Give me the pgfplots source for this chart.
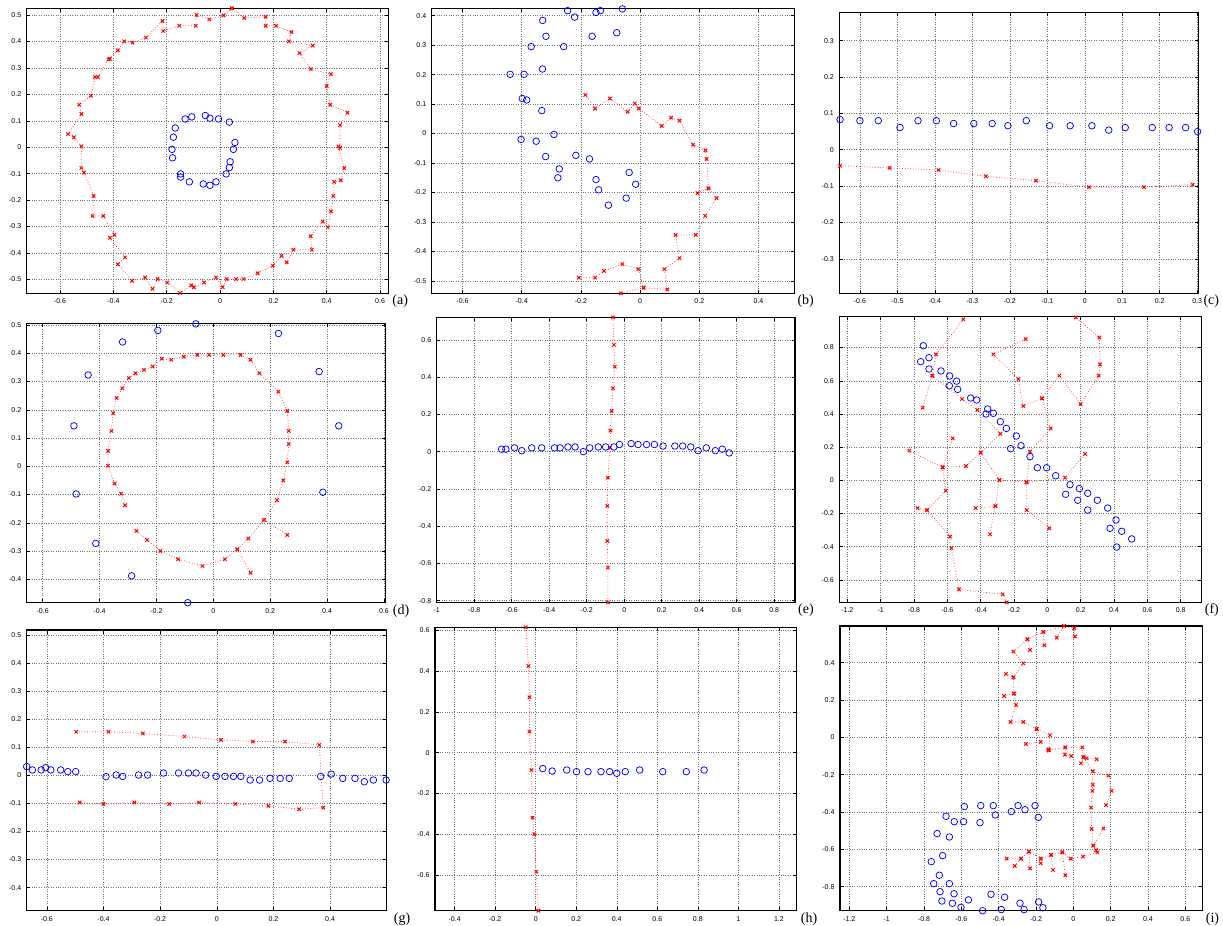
\documentclass[border=0pt]{standalone}
\usepackage{fontspec}
\setmainfont{Liberation Serif}
\setsansfont{Liberation Sans}
\usepackage{pgfplots}
\pgfplotsset{compat=1.18}
\pgfplotsset{
 panel/.style={scale only axis, anchor=north west,
  axis line style={line width=1.1pt, black},
  grid=major, major grid style={dotted, line width=0.5pt, black!55},
  tick align=inside, major tick length=3.5pt, tick style={line width=0.5pt, black},
  scaled ticks=false, /pgf/number format/assume math mode=true, /pgf/number format/fixed,
  tick label style={font=\sffamily\fontsize{7}{8}\selectfont},
  xticklabel style={yshift=-2pt}, yticklabel style={xshift=-2pt},
  unbounded coords=jump},
 blu/.style={only marks, mark=o, mark size=3.3pt, blue, mark options={line width=0.75pt}},
 rd/.style={red!85, dotted, line width=0.7pt, mark=x, mark size=2.4pt, mark options={solid, red, line width=1pt}},
}
\tikzset{lab/.style={anchor=west, inner sep=0pt, font=\fontsize{14}{14}\selectfont}}
\begin{document}
\begin{tikzpicture}
\path (0pt,0pt) rectangle (1223pt,-925pt);
% ---------------- (a)
\begin{axis}[panel, name=pA, at={(26.7pt,-8.3pt)}, width=361.6pt, height=285pt,
 xmin=-0.725, xmax=0.631, ymin=-0.553, ymax=0.526,
 xtick={-0.6,-0.4,-0.2,0,0.2,0.4,0.6}, ytick={-0.5,-0.4,-0.3,-0.2,-0.1,0,0.1,0.2,0.3,0.4,0.5}]
\addplot[rd] coordinates {(0.044,0.526) (0.013,0.499) (-0.040,0.484) (-0.088,0.501) (-0.091,0.460) (-0.153,0.460) (-0.213,0.440) (-0.216,0.478) (-0.278,0.415) (-0.328,0.396) (-0.360,0.401) (-0.383,0.367) (-0.413,0.335) (-0.418,0.333) (-0.458,0.266) (-0.469,0.266) (-0.484,0.195) (-0.528,0.161) (-0.520,0.126) (-0.570,0.050) (-0.548,0.038) (-0.520,0.003) (-0.520,-0.078) (-0.510,-0.096) (-0.474,-0.184) (-0.478,-0.260) (-0.438,-0.260) (-0.396,-0.332) (-0.413,-0.343) (-0.356,-0.417) (-0.383,-0.443) (-0.330,-0.506) (-0.281,-0.493) (-0.253,-0.536) (-0.234,-0.499) (-0.198,-0.512) (-0.150,-0.552) (-0.108,-0.523) (-0.098,-0.530) (-0.060,-0.512) (-0.015,-0.493) (0.010,-0.530) (0.025,-0.499) (0.060,-0.499) (0.088,-0.499) (0.141,-0.477) (0.198,-0.448) (0.231,-0.411) (0.250,-0.436) (0.275,-0.388) (0.344,-0.388) (0.340,-0.337) (0.385,-0.281) (0.404,-0.303) (0.416,-0.243) (0.425,-0.184) (0.428,-0.131) (0.453,-0.125) (0.466,-0.079) (0.444,0.003) (0.450,-0.003) (0.450,0.084) (0.478,0.131) (0.413,0.161) (0.400,0.232) (0.416,0.277) (0.340,0.296) (0.298,0.356) (0.348,0.385) (0.258,0.401) (0.268,0.436) (0.210,0.460) (0.171,0.460) (0.171,0.494) (0.091,0.489) (0.044,0.526)};
\addplot[blu] coordinates {(-0.055,0.120) (-0.038,0.110) (-0.006,0.107) (0.035,0.095) (-0.106,0.115) (-0.131,0.107) (-0.168,0.073) (-0.175,0.038) (-0.180,-0.008) (-0.178,-0.040) (0.056,0.018) (0.050,-0.008) (0.038,-0.055) (0.035,-0.077) (0.023,-0.101) (-0.015,-0.131) (-0.038,-0.144) (-0.063,-0.139) (-0.115,-0.131) (-0.148,-0.101) (-0.148,-0.113)};
\end{axis}
\node[lab] at ([xshift=4pt,yshift=-8pt]pA.south east) {(a)};
% ---------------- (b)
\begin{axis}[panel, name=pB, at={(431.7pt,-8.3pt)}, width=362.6pt, height=285pt,
 xmin=-0.704, xmax=0.521, ymin=-0.542, ymax=0.425,
 xtick={-0.6,-0.4,-0.2,0,0.2,0.4}, ytick={-0.5,-0.4,-0.3,-0.2,-0.1,0,0.1,0.2,0.3,0.4}]
\addplot[rd] coordinates {(-0.185,0.131) (-0.152,0.085) (-0.102,0.119) (-0.042,0.074) (-0.018,0.102) (-0.005,0.085) (0.073,0.026) (0.105,0.054) (0.133,0.044) (0.179,-0.038) (0.221,-0.057) (0.225,-0.086) (0.231,-0.186) (0.258,-0.219) (0.220,-0.279) (0.188,-0.344) (0.120,-0.344) (0.133,-0.423) (0.082,-0.460) (0.092,-0.529) (0.012,-0.523) (-0.006,-0.460) (-0.060,-0.443) (-0.122,-0.466) (-0.152,-0.489) (-0.207,-0.489) (nan,nan) (0.231,-0.186) (0.194,-0.202) (nan,nan) (0.012,-0.523) (-0.065,-0.542)};
\addplot[blu] coordinates {(-0.439,0.201) (-0.392,0.201) (-0.398,0.119) (-0.383,0.114) (-0.332,0.078) (-0.402,-0.020) (-0.351,-0.026) (-0.291,-0.003) (-0.319,-0.078) (-0.273,-0.120) (-0.278,-0.150) (-0.217,-0.074) (-0.171,-0.086) (-0.149,-0.156) (-0.140,-0.191) (-0.107,-0.243) (-0.047,-0.219) (-0.037,-0.132) (-0.015,-0.172) (-0.368,0.295) (-0.330,0.219) (-0.318,0.330) (-0.329,0.384) (-0.258,0.295) (-0.245,0.417) (-0.221,0.395) (-0.162,0.330) (-0.149,0.411) (-0.134,0.417) (-0.079,0.342) (-0.060,0.423)};
\end{axis}
\node[lab] at ([xshift=3pt,yshift=-8pt]pB.south east) {(b)};
% ---------------- (c)
\begin{axis}[panel, name=pC, at={(839.3pt,-12.7pt)}, width=359pt, height=280.6pt,
 xmin=-0.655, xmax=0.303, ymin=-0.395, ymax=0.377,
 xtick={-0.6,-0.5,-0.4,-0.3,-0.2,-0.1,0,0.1,0.2,0.3}, ytick={-0.3,-0.2,-0.1,0,0.1,0.2,0.3}]
\addplot[rd] coordinates {(-0.653,-0.044) (-0.521,-0.050) (-0.390,-0.056) (-0.264,-0.073) (-0.130,-0.085) (0.011,-0.103) (0.158,-0.103) (0.288,-0.096)};
\addplot[blu] coordinates {(-0.653,0.083) (-0.600,0.080) (-0.551,0.080) (-0.493,0.061) (-0.445,0.080) (-0.396,0.080) (-0.350,0.072) (-0.296,0.072) (-0.247,0.072) (-0.205,0.066) (-0.156,0.080) (-0.094,0.066) (-0.039,0.066) (0.019,0.066) (0.064,0.054) (0.108,0.061) (0.180,0.061) (0.225,0.061) (0.269,0.061) (0.301,0.050)};
\end{axis}
\node[lab] at ([xshift=5pt,yshift=-8pt]pC.south east) {(c)};
% ---------------- (d)
\begin{axis}[panel, name=pD, at={(26.7pt,-323.3pt)}, width=359pt, height=279.4pt,
 xmin=-0.656, xmax=0.606, ymin=-0.483, ymax=0.506,
 xtick={-0.6,-0.4,-0.2,0,0.2,0.4,0.6}, ytick={-0.4,-0.3,-0.2,-0.1,0,0.1,0.2,0.3,0.4,0.5}]
\addplot[rd] coordinates {(-0.310,-0.138) (-0.324,-0.097) (-0.347,-0.061) (-0.370,0.002) (-0.370,0.054) (-0.358,0.125) (-0.352,0.188) (-0.340,0.242) (-0.320,0.276) (-0.297,0.312) (-0.274,0.329) (-0.244,0.341) (-0.213,0.353) (-0.181,0.381) (-0.148,0.377) (-0.104,0.388) (-0.056,0.394) (-0.015,0.394) (0.035,0.394) (0.096,0.394) (0.131,0.377) (0.162,0.329) (0.229,0.264) (0.260,0.196) (0.265,0.125) (0.265,0.078) (0.260,0.014) (0.246,-0.050) (0.224,-0.120) (0.178,-0.190) (0.123,-0.256) (0.084,-0.294) (0.041,-0.329) (-0.038,-0.353) (-0.124,-0.329) (-0.186,-0.300) (-0.233,-0.261) (-0.270,-0.229) (nan,nan) (0.178,-0.190) (0.260,-0.243) (nan,nan) (0.084,-0.294) (0.131,-0.377)};
\addplot[blu] coordinates {(-0.061,0.504) (0.077,0.509) (-0.195,0.481) (-0.319,0.440) (0.229,0.470) (-0.440,0.323) (0.372,0.335) (-0.490,0.143) (0.441,0.143) (-0.482,-0.098) (0.385,-0.092) (-0.413,-0.273) (-0.287,-0.388) (-0.090,-0.483)};
\end{axis}
\node[lab] at ([xshift=7pt,yshift=-8pt]pD.south east) {(d)};
% ---------------- (e)
\begin{axis}[panel, name=pE, at={(436.7pt,-317.3pt)}, width=358.3pt, height=285pt,
 xmin=-1.0, xmax=0.911, ymin=-0.809, ymax=0.721,
 xtick={-1,-0.8,-0.6,-0.4,-0.2,0,0.2,0.4,0.6,0.8}, ytick={-0.8,-0.6,-0.4,-0.2,0,0.2,0.4,0.6}]
\addplot[rd] coordinates {(-0.060,0.721) (-0.055,0.573) (-0.050,0.456) (-0.060,0.340) (-0.067,0.218) (-0.073,0.113) (-0.076,0.021) (-0.087,-0.140) (-0.090,-0.292) (-0.090,-0.480) (-0.087,-0.623) (-0.087,-0.809)};
\addplot[blu] coordinates {(-0.654,0.013) (-0.631,0.013) (-0.585,0.020) (-0.546,0.005) (-0.493,0.020) (-0.440,0.020) (-0.372,0.020) (-0.342,0.020) (-0.300,0.025) (-0.262,0.025) (-0.218,0.000) (-0.184,0.020) (-0.138,0.025) (-0.099,0.025) (-0.055,0.025) (-0.025,0.038) (0.037,0.043) (0.074,0.038) (0.119,0.038) (0.161,0.038) (0.207,0.030) (0.270,0.030) (0.312,0.030) (0.355,0.025) (0.394,0.005) (0.438,0.020) (0.486,0.005) (0.523,0.013) (0.560,-0.007)};
\end{axis}
\node[lab] at ([xshift=3pt,yshift=-8pt]pE.south east) {(e)};
% ---------------- (f)
\begin{axis}[panel, name=pF, at={(839.3pt,-316.7pt)}, width=362.4pt, height=285.6pt,
 xmin=-1.248, xmax=0.926, ymin=-0.735, ymax=0.986,
 xtick={-1.2,-1,-0.8,-0.6,-0.4,-0.2,0,0.2,0.4,0.6,0.8}, ytick={-0.6,-0.4,-0.2,0,0.2,0.4,0.6,0.8}]
\addplot[rd] coordinates {(-0.504,0.970) (-0.668,0.759) (-0.690,0.631) (-0.748,0.438) (nan,nan)
(-0.690,0.631) (-0.512,0.490) (-0.420,0.424) (-0.282,0.281) (-0.400,0.167) (-0.488,0.086) (-0.628,0.078) (-0.568,0.253) (nan,nan)
(-0.628,0.078) (-0.828,0.179) (nan,nan)
(-0.628,0.078) (-0.610,-0.062) (-0.722,-0.179) (-0.778,-0.167) (nan,nan)
(-0.722,-0.179) (-0.584,-0.339) (-0.576,-0.408) (-0.530,-0.657) (-0.268,-0.687) (-0.244,-0.735) (nan,nan)
(-0.400,0.167) (-0.288,0.002) (-0.312,-0.155) (-0.430,-0.167) (nan,nan)
(-0.312,-0.155) (-0.344,-0.325) (nan,nan)
(-0.288,0.002) (-0.124,-0.012) (-0.124,-0.179) (0.012,-0.289) (nan,nan)
(-0.124,-0.012) (-0.104,0.173) (0.020,0.313) (-0.032,0.494) (-0.144,0.448) (-0.174,0.610) (-0.324,0.759) (-0.130,0.851) (nan,nan)
(-0.032,0.494) (0.072,0.631) (0.200,0.460) (0.308,0.631) (0.316,0.699) (0.312,0.861) (0.170,0.982) (nan,nan)
(-0.124,-0.012) (0.106,0.016) (0.226,0.159)};
\addplot[blu] coordinates {(-0.744,0.811) (-0.760,0.715) (-0.710,0.739) (-0.710,0.671) (-0.638,0.659) (-0.586,0.629) (-0.588,0.570) (-0.544,0.598) (-0.538,0.548) (-0.460,0.496) (-0.424,0.484) (-0.358,0.430) (-0.368,0.400) (-0.324,0.404) (-0.282,0.353) (-0.246,0.313) (-0.186,0.267) (-0.158,0.209) (-0.220,0.191) (-0.104,0.143) (-0.060,0.076) (-0.004,0.076) (0.050,0.028) (0.136,-0.026) (0.192,-0.050) (0.110,-0.084) (0.242,-0.078) (0.182,-0.120) (0.300,-0.120) (0.242,-0.179) (0.362,-0.167) (0.412,-0.239) (0.376,-0.289) (0.446,-0.307) (0.506,-0.353) (0.416,-0.402)};
\end{axis}
\node[lab] at ([xshift=3pt,yshift=-8pt]pF.south east) {(f)};
% ---------------- (g)
\begin{axis}[panel, name=pG, at={(26.7pt,-630pt)}, width=360pt, height=280.7pt,
 xmin=-0.671, xmax=0.600, ymin=-0.482, ymax=0.517,
 xtick={-0.6,-0.4,-0.2,0,0.2,0.4}, ytick={-0.4,-0.3,-0.2,-0.1,0,0.1,0.2,0.3,0.4,0.5}]
\addplot[rd] coordinates {(-0.496,0.155) (-0.382,0.155) (-0.261,0.149) (-0.114,0.138) (0.015,0.126) (0.127,0.120) (0.241,0.120) (0.362,0.108) (0.376,-0.115) (0.291,-0.121) (0.182,-0.109) (0.066,-0.102) (-0.062,-0.097) (-0.168,-0.102) (-0.291,-0.097) (-0.400,-0.102) (-0.484,-0.097)};
\addplot[blu] coordinates {(-0.671,0.031) (-0.651,0.019) (-0.620,0.019) (-0.604,0.027) (-0.586,0.019) (-0.551,0.019) (-0.526,0.013) (-0.498,0.013) (-0.391,-0.005) (-0.355,0.001) (-0.332,-0.004) (-0.276,0.001) (-0.244,0.001) (-0.188,0.008) (-0.135,0.008) (-0.100,0.008) (-0.073,0.008) (-0.039,0.001) (-0.002,-0.004) (0.029,-0.004) (0.059,-0.004) (0.085,-0.004) (0.118,-0.017) (0.151,-0.017) (0.188,-0.011) (0.224,-0.011) (0.256,-0.011) (0.367,-0.004) (0.404,0.004) (0.445,-0.011) (0.488,-0.011) (0.521,-0.023) (0.553,-0.017) (0.598,-0.017)};
\end{axis}
\node[lab] at ([xshift=7pt,yshift=-8pt]pG.south east) {(g)};
% ---------------- (h)
\begin{axis}[panel, name=pH, at={(435pt,-627.3pt)}, width=361.7pt, height=283.4pt,
 xmin=-0.497, xmax=1.288, ymin=-0.773, ymax=0.613,
 xtick={-0.4,-0.2,0,0.2,0.4,0.6,0.8,1,1.2}, ytick={-0.6,-0.4,-0.2,0,0.2,0.4,0.6}]
\addplot[rd] coordinates {(-0.049,0.613) (-0.036,0.424) (-0.031,0.271) (-0.031,0.103) (-0.021,-0.085) (-0.016,-0.318) (-0.007,-0.399) (0.003,-0.582) (0.013,-0.773)};
\addplot[blu] coordinates {(0.035,-0.078) (0.081,-0.090) (0.153,-0.085) (0.201,-0.093) (0.258,-0.093) (0.322,-0.093) (0.365,-0.093) (0.400,-0.101) (0.442,-0.093) (0.513,-0.085) (0.627,-0.093) (0.743,-0.093) (0.831,-0.085)};
\end{axis}
\node[lab] at ([xshift=4pt,yshift=-8pt]pH.south east) {(h)};
% ---------------- (i)
\begin{axis}[panel, name=pI, at={(840pt,-626pt)}, width=362.7pt, height=284.7pt,
 xmin=-1.250, xmax=0.693, ymin=-0.929, ymax=0.596,
 xtick={-1.2,-1,-0.8,-0.6,-0.4,-0.2,0,0.2,0.4,0.6}, ytick={-0.8,-0.6,-0.4,-0.2,0,0.2,0.4}]
\addplot[rd] coordinates {(0.005,0.584) (-0.050,0.596) (-0.161,0.564) (-0.246,0.525) (-0.321,0.459) (-0.268,0.396) (-0.321,0.321) (-0.318,0.234) (-0.307,0.173) (-0.336,0.082) (-0.268,0.082) (-0.196,0.045) (-0.125,0.011) (-0.132,-0.070) (-0.043,-0.054) (0.048,-0.054) (0.054,-0.107) (0.104,-0.182) (0.188,-0.205) (0.205,-0.287) (0.175,-0.363) (nan,nan)
(0.104,-0.182) (0.104,-0.254) (0.102,-0.287) (0.095,-0.377) (0.098,-0.491) (0.107,-0.580) (0.121,-0.605) (0.129,-0.616) (0.052,-0.639) (-0.014,-0.650) (-0.059,-0.616) (-0.120,-0.630) (-0.175,-0.650) (-0.238,-0.612) (-0.280,-0.650) (-0.357,-0.650) (nan,nan)
(0.009,0.539) (0.005,0.584) (nan,nan)
(-0.089,0.534) (-0.050,0.596) (nan,nan)
(-0.155,0.493) (-0.161,0.564) (nan,nan)
(-0.232,0.468) (-0.246,0.525) (nan,nan)
(-0.361,0.339) (-0.321,0.321) (nan,nan)
(-0.371,0.221) (-0.318,0.234) (nan,nan)
(-0.254,-0.036) (-0.175,-0.025) (-0.196,0.045) (nan,nan)
(-0.134,-0.064) (-0.132,-0.070) (nan,nan)
(-0.012,-0.100) (-0.045,-0.093) (-0.043,-0.054) (nan,nan)
(0.125,-0.118) (0.071,-0.113) (0.054,-0.107) (0.041,-0.139) (nan,nan)
(0.161,-0.488) (0.107,-0.580) (nan,nan)
(-0.043,-0.739) (-0.059,-0.616) (nan,nan)
(-0.109,-0.711) (-0.120,-0.630) (nan,nan)
(-0.175,-0.675) (-0.175,-0.650) (nan,nan)
(-0.232,-0.702) (-0.238,-0.612) (nan,nan)
(-0.314,-0.689) (-0.280,-0.650)};
\addplot[blu] coordinates {(-0.584,-0.371) (-0.496,-0.366) (-0.429,-0.366) (-0.418,-0.416) (-0.332,-0.398) (-0.296,-0.366) (-0.259,-0.388) (-0.205,-0.366) (-0.188,-0.429) (-0.682,-0.423) (-0.638,-0.452) (-0.588,-0.452) (-0.500,-0.457) (-0.730,-0.516) (-0.664,-0.534) (-0.700,-0.634) (-0.761,-0.666) (-0.718,-0.739) (-0.748,-0.784) (-0.714,-0.827) (-0.664,-0.784) (-0.639,-0.838) (-0.704,-0.877) (-0.648,-0.889) (-0.602,-0.911) (-0.562,-0.871) (-0.486,-0.929) (-0.441,-0.841) (-0.386,-0.923) (-0.368,-0.857) (-0.286,-0.889) (-0.264,-0.923) (-0.186,-0.882) (-0.163,-0.913)};
\end{axis}
\node[lab] at ([xshift=3pt,yshift=-8pt]pI.south east) {(i)};
\end{tikzpicture}
\end{document}
